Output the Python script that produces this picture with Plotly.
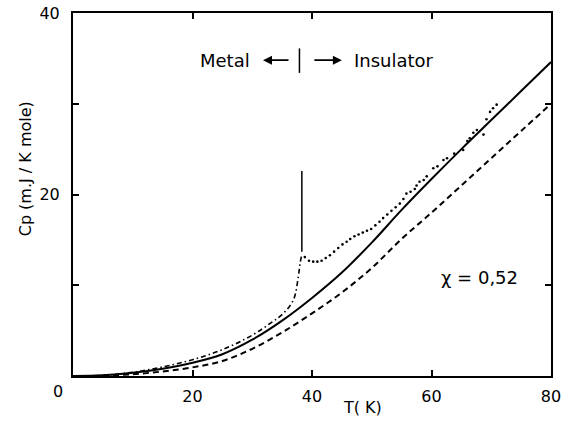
import plotly.graph_objects as go

# ---- data ----
T_grid = [0, 5, 10, 15, 20, 25, 30, 35, 40, 45, 50, 55, 60, 65, 70, 75, 80]
cp_solid = [0, 0.08, 0.35, 0.8, 1.45, 2.4, 4.0, 6.1, 8.6, 11.4, 14.7, 18.3, 21.7, 25.0, 28.2, 31.4, 34.6]
cp_dashed = [0, 0.03, 0.2, 0.5, 0.95, 1.65, 3.0, 4.8, 6.9, 9.2, 11.9, 15.1, 18.0, 21.0, 24.0, 27.0, 30.0]

T_meas_low = [5, 10, 15, 20, 25, 30, 33, 35.2, 36.9, 37.7, 38.0, 38.3]
cp_meas_low = [0.05, 0.4, 1.0, 1.8, 2.9, 4.5, 5.8, 6.9, 8.4, 10.9, 12.4, 13.4]

T_meas_high = [38.8, 39.5, 40.2, 40.9, 41.6, 42.3, 43.0, 43.7, 44.4, 45.1, 45.8, 46.4, 47.1,
               47.8, 48.5, 49.2, 49.9, 50.6, 51.3, 51.9, 52.6, 53.3, 54.0, 54.7, 55.3, 55.8,
               56.5, 57.2, 57.5, 58.0, 58.7, 59.2, 60.3, 61.0, 62.0, 62.6, 63.8, 65.3, 66.0,
               66.4, 67.0, 67.6, 68.7, 69.2, 69.8, 70.3, 70.9]
cp_meas_high = [13.1, 12.7, 12.6, 12.6, 12.7, 13.0, 13.3, 13.7, 14.1, 14.5, 14.8, 15.1, 15.4,
                15.6, 15.8, 16.0, 16.2, 16.6, 17.0, 17.4, 17.8, 18.2, 18.6, 19.0, 19.5, 20.1,
                20.3, 20.6, 21.0, 21.4, 21.6, 22.0, 22.9, 23.1, 23.8, 24.0, 24.5, 24.9, 25.9,
                26.2, 26.8, 27.1, 26.6, 28.3, 29.1, 29.5, 29.9]

T_transition = [38.3, 38.3]
cp_transition = [13.7, 22.6]

T_divider = [37.9, 37.9]
cp_divider = [33.4, 36.1]

x_ticks = [0, 20, 40, 60, 80]
x_ticktext = ["", "20", "40", "60", "80"]
y_ticks = [0, 10, 20, 30, 40]
y_ticktext = ["", "", "20", "", "40"]

FONT = "DejaVu Sans"

fig = go.Figure()
fig.add_trace(go.Scatter(x=T_grid, y=cp_solid, mode="lines", line_shape="spline",
                         line=dict(color="black", width=2)))
fig.add_trace(go.Scatter(x=T_grid, y=cp_dashed, mode="lines", line_shape="spline",
                         line=dict(color="black", width=2, dash="6px,4px")))
fig.add_trace(go.Scatter(x=T_meas_low, y=cp_meas_low, mode="lines", line_shape="spline",
                         line=dict(color="black", width=1.6, dash="5px,3px,1.5px,3px")))
fig.add_trace(go.Scatter(x=T_meas_high, y=cp_meas_high, mode="markers",
                         marker=dict(color="black", size=2.6)))
fig.add_trace(go.Scatter(x=T_transition, y=cp_transition, mode="lines",
                         line=dict(color="black", width=1.5)))
fig.add_trace(go.Scatter(x=T_divider, y=cp_divider, mode="lines",
                         line=dict(color="black", width=1.5)))

annotations = [
    dict(x=25.4, y=34.8, text="Metal", showarrow=False, font=dict(size=18)),
    dict(x=53.7, y=34.8, text="Insulator", showarrow=False, font=dict(size=18)),
    dict(x=31.8, y=34.8, ax=27, ay=0, text="", showarrow=True, arrowhead=2,
         arrowsize=1, arrowwidth=1.8, arrowcolor="black"),
    dict(x=45.0, y=34.8, ax=-29, ay=0, text="", showarrow=True, arrowhead=2,
         arrowsize=1, arrowwidth=1.8, arrowcolor="black"),
    dict(x=68.0, y=10.9, text="χ = 0,52", showarrow=False, font=dict(size=18)),
    dict(xref="paper", yref="paper", x=-0.031, y=-0.044, xanchor="center", yanchor="middle",
         text="0", showarrow=False, font=dict(size=16)),
    dict(xref="paper", yref="paper", x=0.605, y=-0.088, xanchor="center", yanchor="middle",
         text="T( K)", showarrow=False, font=dict(size=16)),
    dict(xref="paper", yref="paper", x=-0.1, y=0.57, xanchor="center", yanchor="middle",
         text="Cp (m.J / K mole)", textangle=-90, showarrow=False, font=dict(size=16)),
]

fig.update_layout(
    width=564, height=422,
    margin=dict(l=73, r=13, t=13, b=46, autoexpand=False),
    paper_bgcolor="white", plot_bgcolor="white",
    showlegend=False,
    font=dict(family=FONT, color="black"),
    annotations=annotations,
)
fig.update_xaxes(range=[0, 80], showgrid=False, zeroline=False, automargin=False,
                 showline=True, linecolor="black", linewidth=2, mirror="ticks",
                 ticks="inside", ticklen=6, tickwidth=1.5, tickcolor="black",
                 tickvals=x_ticks, ticktext=x_ticktext, tickfont=dict(size=16),
                 ticklabelstandoff=5)
fig.update_yaxes(range=[0, 40], showgrid=False, zeroline=False, automargin=False,
                 showline=True, linecolor="black", linewidth=2, mirror="ticks",
                 ticks="inside", ticklen=6, tickwidth=1.5, tickcolor="black",
                 tickvals=y_ticks, ticktext=y_ticktext, tickfont=dict(size=16),
                 ticklabelstandoff=8)

fig.write_html("out.html", config={"displayModeBar": False},
               post_script="document.body.style.margin='0';")
